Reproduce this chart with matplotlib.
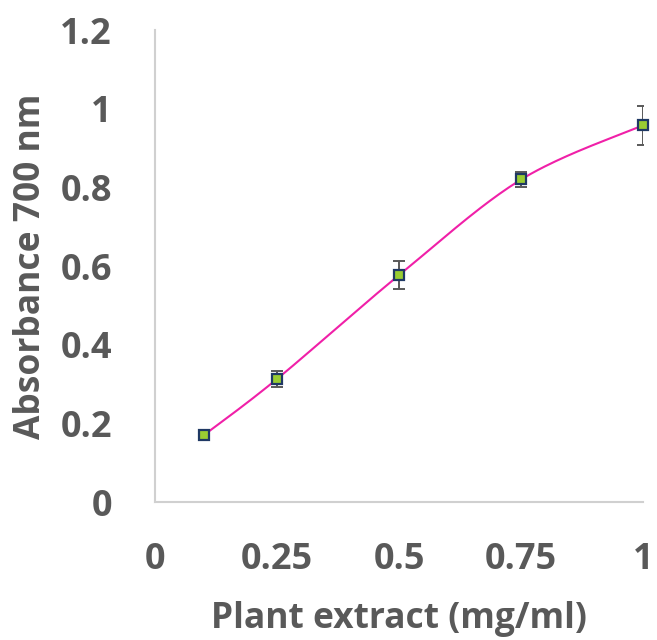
import numpy as np
import matplotlib
matplotlib.use("Agg")
import matplotlib.pyplot as plt

conc = [0.1, 0.25, 0.5, 0.75, 1.0]
absorbance = [0.170, 0.313, 0.577, 0.820, 0.958]
err = [0.005, 0.021, 0.035, 0.018, 0.050]
xticks = [0, 0.25, 0.5, 0.75, 1]
xticklabels = ["0", "0.25", "0.5", "0.75", "1"]
yticks = [0, 0.2, 0.4, 0.6, 0.8, 1.0, 1.2]
yticklabels = ["0", "0.2", "0.4", "0.6", "0.8", "1", "1.2"]

plt.rcParams['font.family'] = ['Open Sans', 'DejaVu Sans']
grey = '#595959'

def smooth(xs, ys, n=40):
    P = np.column_stack([xs, ys])
    out = []
    for i in range(len(P) - 1):
        p0 = P[i - 1] if i > 0 else P[i]
        p1 = P[i]
        p2 = P[i + 1]
        p3 = P[i + 2] if i + 2 < len(P) else P[i + 1]
        c1 = p1 + (p2 - p0) / 6
        c2 = p2 - (p3 - p1) / 6
        t = np.linspace(0, 1, n)[:, None]
        seg = (1 - t) ** 3 * p1 + 3 * (1 - t) ** 2 * t * c1 + 3 * (1 - t) * t ** 2 * c2 + t ** 3 * p2
        out.append(seg if i == 0 else seg[1:])
    out = np.vstack(out)
    return out[:, 0], out[:, 1]

fig = plt.figure(figsize=(6.57, 6.4), dpi=100)
ax = fig.add_axes([0.236, 0.2156, 0.743, 0.7375])

sx, sy = smooth(conc, absorbance)
ax.plot(sx, sy, color='#F020A8', lw=1.5, zorder=2)
ax.errorbar(conc, absorbance, yerr=err, fmt='none', ecolor='#595959', elinewidth=1.4,
            capsize=4.5, capthick=1.4, zorder=3)
ax.plot(conc, absorbance, ls='none', marker='s', ms=7.5, mfc='#9ACD32', mec='#1F3864',
        mew=1.6, zorder=4, clip_on=False)

ax.set_xlim(0, 1)
ax.set_ylim(0, 1.2)
ax.set_xticks(xticks)
ax.set_xticklabels(xticklabels)
ax.set_yticks(yticks)
ax.set_yticklabels(yticklabels)
for s in ['top', 'right']:
    ax.spines[s].set_visible(False)
for s in ['left', 'bottom']:
    ax.spines[s].set_color('#D0D0D0')
    ax.spines[s].set_linewidth(1.5)
ax.tick_params(length=0, labelsize=26, colors=grey)
ax.tick_params(axis='x', pad=29)
ax.tick_params(axis='y', pad=31)
for lab in ax.get_xticklabels() + ax.get_yticklabels():
    lab.set_fontweight('bold')
ax.set_xlabel('Plant extract (mg/ml)', fontsize=25.5, fontweight='bold', color=grey, labelpad=16)
ax.set_ylabel('Absorbance 700 nm', fontsize=25.5, fontweight='bold', color=grey, labelpad=8)

fig.savefig('out.png', dpi=100)
